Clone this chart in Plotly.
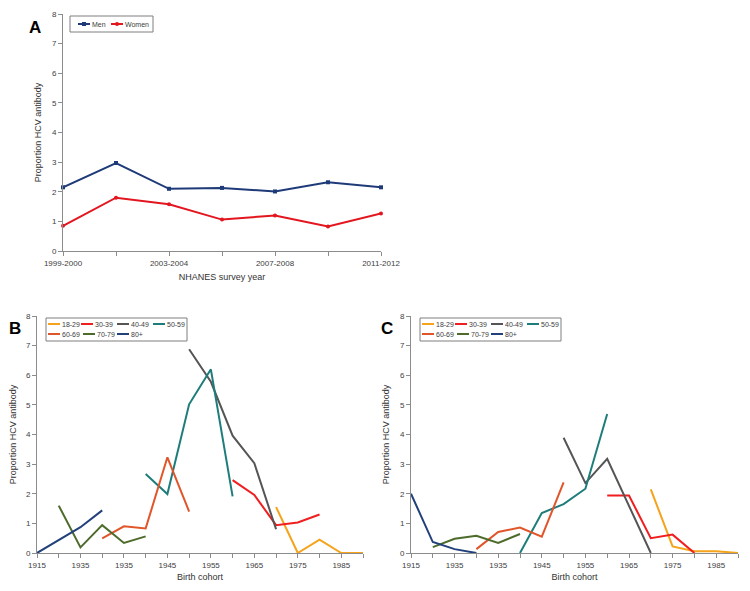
import plotly.graph_objects as go

# ---------------- data ----------------
survey_years = ["1999-2000", "2001-2002", "2003-2004", "2005-2006",
                "2007-2008", "2009-2010", "2011-2012"]
survey_tick_labels = ["1999-2000", "", "2003-2004", "", "2007-2008", "", "2011-2012"]
men = [2.15, 2.97, 2.10, 2.13, 2.01, 2.32, 2.15]
women = [0.85, 1.80, 1.58, 1.06, 1.20, 0.83, 1.27]

y_ticks = [0, 1, 2, 3, 4, 5, 6, 7, 8]

cohorts = [1915, 1920, 1925, 1930, 1935, 1940, 1945, 1950,
           1955, 1960, 1965, 1970, 1975, 1980, 1985, 1990]
cohort_tick_labels = ["1915", "", "1935", "", "1935", "", "1945", "", "1955", "",
                      "1965", "", "1975", "", "1985", ""]

age_groups = ["18-29", "30-39", "40-49", "50-59", "60-69", "70-79", "80+"]
N = None
# Panel B
b_18_29 = [N, N, N, N, N, N, N, N, N, N, N, 1.55, 0.00, 0.45, 0.00, 0.00]
b_30_39 = [N, N, N, N, N, N, N, N, N, 2.46, 1.96, 0.94, 1.03, 1.30, N, N]
b_40_49 = [N, N, N, N, N, N, N, 6.88, 5.78, 3.96, 3.03, 0.80, N, N, N, N]
b_50_59 = [N, N, N, N, N, 2.67, 1.99, 5.02, 6.20, 1.91, N, N, N, N, N, N]
b_60_69 = [N, N, N, 0.49, 0.90, 0.83, 3.23, 1.40, N, N, N, N, N, N, N, N]
b_70_79 = [N, 1.60, 0.19, 0.94, 0.34, 0.56, N, N, N, N, N, N, N, N, N, N]
b_80_up = [0.00, 0.43, 0.87, 1.44, N, N, N, N, N, N, N, N, N, N, N, N]
# Panel C
c_18_29 = [N, N, N, N, N, N, N, N, N, N, N, 2.15, 0.22, 0.06, 0.06, 0.00]
c_30_39 = [N, N, N, N, N, N, N, N, N, 1.94, 1.94, 0.50, 0.62, 0.00, N, N]
c_40_49 = [N, N, N, N, N, N, N, 3.89, 2.36, 3.18, 1.59, 0.00, N, N, N, N]
c_50_59 = [N, N, N, N, N, 0.00, 1.35, 1.65, 2.17, 4.69, N, N, N, N, N, N]
c_60_69 = [N, N, N, 0.13, 0.71, 0.86, 0.55, 2.38, N, N, N, N, N, N, N, N]
c_70_79 = [N, 0.20, 0.48, 0.58, 0.34, 0.64, N, N, N, N, N, N, N, N, N, N]
c_80_up = [2.00, 0.37, 0.13, 0.00, N, N, N, N, N, N, N, N, N, N, N, N]

panel_b = [b_18_29, b_30_39, b_40_49, b_50_59, b_60_69, b_70_79, b_80_up]
panel_c = [c_18_29, c_30_39, c_40_49, c_50_59, c_60_69, c_70_79, c_80_up]

# ---------------- style ----------------
PAGE_OFFSET = 8          # default page margin around the plot div
W, H = 750 - 2 * PAGE_OFFSET + 8, 591 - 2 * PAGE_OFFSET + 8
FONT = "Liberation Sans, Arial, sans-serif"
MEN_COLOR = "#1F3A78"
WOMEN_COLOR = "#E3161F"
AGE_COLORS = ["#F5A31A", "#F01E1E", "#555555", "#1E7D7A", "#E0562A", "#4D6B2B", "#22407A"]
AXIS_COLOR = "#8c8c8c"
TEXT_COLOR = "#404040"


def px_x(x):
    return (x - PAGE_OFFSET) / W


def px_y(y):
    return 1 - (y - PAGE_OFFSET) / H


fig = go.Figure()

# Panel A
fig.add_trace(go.Scatter(x=list(range(len(survey_years))), y=men, mode="lines+markers",
                         name="Men", line=dict(color=MEN_COLOR, width=2),
                         marker=dict(symbol="square", size=4, color=MEN_COLOR),
                         text=survey_years, cliponaxis=False, showlegend=False,
                         xaxis="x", yaxis="y"))
fig.add_trace(go.Scatter(x=list(range(len(survey_years))), y=women, mode="lines+markers",
                         name="Women", line=dict(color=WOMEN_COLOR, width=2),
                         marker=dict(symbol="circle", size=4, color=WOMEN_COLOR),
                         text=survey_years, cliponaxis=False, showlegend=False,
                         xaxis="x", yaxis="y"))

# Panels B and C
for series, ax in [(panel_b, "2"), (panel_c, "3")]:
    for name, vals, col in zip(age_groups, series, AGE_COLORS):
        fig.add_trace(go.Scatter(x=cohorts, y=vals, mode="lines", name=name,
                                 line=dict(color=col, width=2), cliponaxis=False,
                                 showlegend=False, xaxis="x" + ax, yaxis="y" + ax))

common_axis = dict(showline=True, linecolor=AXIS_COLOR, linewidth=1, ticks="outside",
                   ticklen=4, tickcolor=AXIS_COLOR, tickwidth=1, showgrid=False,
                   zeroline=False, automargin=False,
                   tickfont=dict(family=FONT, size=8, color=TEXT_COLOR))
title_font = dict(family=FONT, size=9, color="#333333")

# geometry (pixels, page coordinates)
A_X = (63, 381)
A_Y = (14, 251)
B_X = (37, 363)
C_X = (411, 738)
BC_Y = (316, 553)

fig.update_layout(
    width=W, height=H, margin=dict(l=0, r=0, t=0, b=0),
    paper_bgcolor="white", plot_bgcolor="white", showlegend=False,
    font=dict(family=FONT),
    xaxis=dict(domain=[px_x(A_X[0]), px_x(A_X[1])], anchor="y", range=[0, 6],
               tickvals=list(range(len(survey_years))), ticktext=survey_tick_labels,
               title=dict(text="NHANES survey year", font=title_font, standoff=7),
               **common_axis),
    yaxis=dict(domain=[px_y(A_Y[1]), px_y(A_Y[0])], anchor="x", range=[0, 8],
               tickvals=y_ticks,
               title=dict(text="Proportion HCV antibody", font=title_font, standoff=8),
               **common_axis),
    xaxis2=dict(domain=[px_x(B_X[0]), px_x(B_X[1])], anchor="y2", range=[1915, 1990],
                tickvals=cohorts, ticktext=cohort_tick_labels,
                title=dict(text="Birth cohort", font=title_font, standoff=5),
                **common_axis),
    yaxis2=dict(domain=[px_y(BC_Y[1]), px_y(BC_Y[0])], anchor="x2", range=[0, 8],
                tickvals=y_ticks,
                title=dict(text="Proportion HCV antibody", font=title_font, standoff=8),
                **common_axis),
    xaxis3=dict(domain=[px_x(C_X[0]), px_x(C_X[1])], anchor="y3", range=[1915, 1990],
                tickvals=cohorts, ticktext=cohort_tick_labels,
                title=dict(text="Birth cohort", font=title_font, standoff=5),
                **common_axis),
    yaxis3=dict(domain=[px_y(BC_Y[1]), px_y(BC_Y[0])], anchor="x3", range=[0, 8],
                tickvals=y_ticks,
                title=dict(text="Proportion HCV antibody", font=title_font, standoff=8),
                **common_axis),
)

annotations = []
shapes = []

# panel letters
for letter, (lx, ly) in zip(["A", "B", "C"], [(35, 27), (15, 328), (387, 328)]):
    annotations.append(dict(text="<b>%s</b>" % letter, x=px_x(lx), y=px_y(ly),
                            xref="paper", yref="paper", showarrow=False,
                            font=dict(family=FONT, size=17, color="black"),
                            xanchor="center", yanchor="middle"))

leg_font = dict(family=FONT, size=7, color=TEXT_COLOR)


def legend_box(x0, y0, x1, y1):
    shapes.append(dict(type="rect", xref="paper", yref="paper",
                       x0=px_x(x0), x1=px_x(x1), y0=px_y(y1), y1=px_y(y0),
                       line=dict(color="#7f7f7f", width=1), fillcolor="white", layer="above"))


def legend_item(x, y, color, label, marker=None):
    shapes.append(dict(type="line", xref="paper", yref="paper",
                       x0=px_x(x), x1=px_x(x + 12), y0=px_y(y), y1=px_y(y),
                       line=dict(color=color, width=2), layer="above"))
    if marker == "square":
        shapes.append(dict(type="rect", xref="paper", yref="paper",
                           x0=px_x(x + 4), x1=px_x(x + 8), y0=px_y(y + 2), y1=px_y(y - 2),
                           line=dict(color=color, width=0), fillcolor=color, layer="above"))
    elif marker == "circle":
        shapes.append(dict(type="circle", xref="paper", yref="paper",
                           x0=px_x(x + 4), x1=px_x(x + 8), y0=px_y(y + 2), y1=px_y(y - 2),
                           line=dict(color=color, width=0), fillcolor=color, layer="above"))
    annotations.append(dict(text=label, x=px_x(x + 12), y=px_y(y), xref="paper", yref="paper",
                            showarrow=False, font=leg_font, xanchor="left", yanchor="middle"))


# legend A
legend_box(70, 16, 153, 32)
legend_item(78, 24, MEN_COLOR, "Men", "square")
legend_item(111, 24, WOMEN_COLOR, "Women", "circle")

# legends B and C
row1_off = [2, 35, 71, 107]
row2_off = [2, 37, 71]
for bx, by in [(46, 318), (420, 318)]:
    legend_box(bx, by, bx + 141, by + 23)
    for i in range(4):
        legend_item(bx + row1_off[i], by + 6, AGE_COLORS[i], age_groups[i])
    for j in range(3):
        legend_item(bx + row2_off[j], by + 16, AGE_COLORS[4 + j], age_groups[4 + j])

fig.update_layout(annotations=annotations, shapes=shapes)

fig.write_html("out.html")
